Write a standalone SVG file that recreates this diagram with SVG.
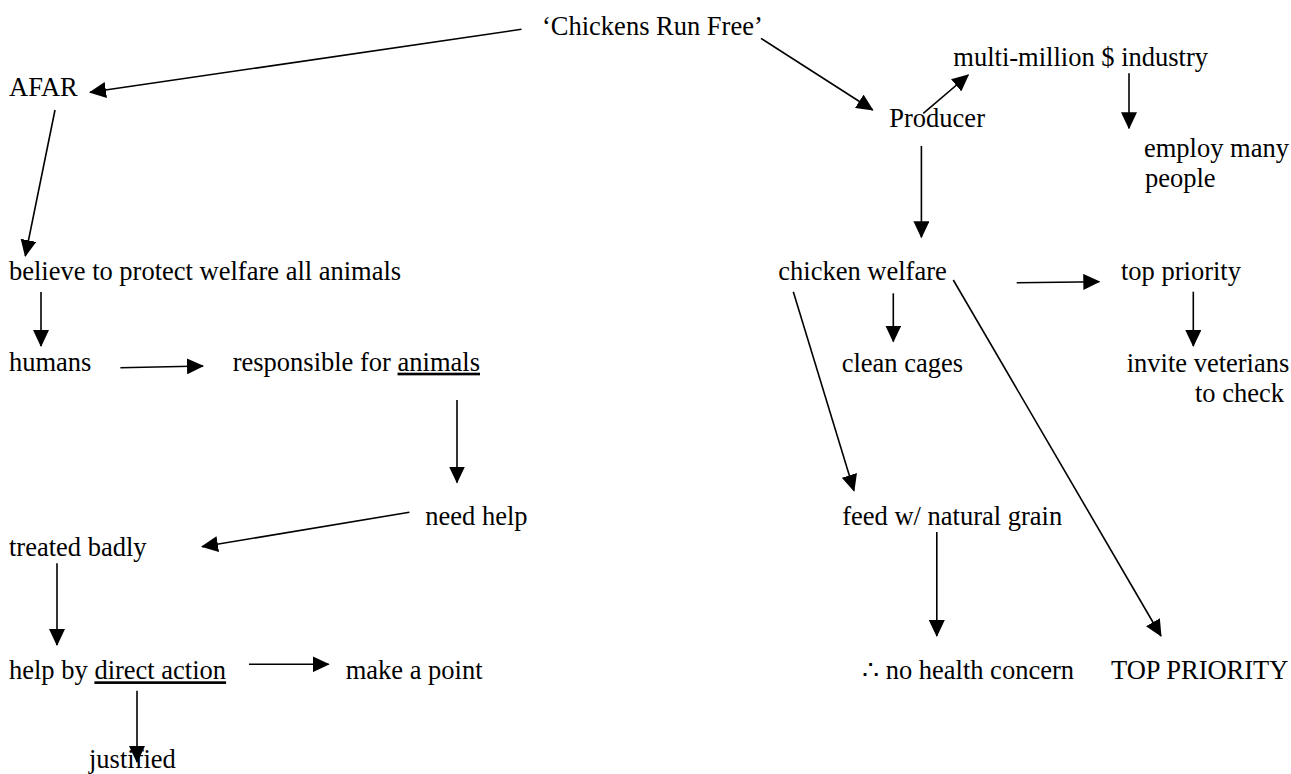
<svg xmlns="http://www.w3.org/2000/svg" width="1291" height="774" viewBox="0 0 1291 774">
<style>
text{font-family:"Liberation Serif","Times New Roman",serif;font-size:26.5px;fill:#000}
.u{text-decoration:underline}
.c line{stroke:#000;stroke-width:1.6;fill:none;marker-end:url(#ah)}
</style>
<defs>
<marker id="ah" markerUnits="userSpaceOnUse" markerWidth="17" markerHeight="16" viewBox="0 0 17 16" refX="16" refY="8" orient="auto">
<path d="M0,0 L17,8 L0,16 z" fill="#000"/>
</marker>
</defs>
<rect width="1291" height="774" fill="#fff"/>
<g class="c" id="connectors">
<line x1="521.5" y1="29.3" x2="90" y2="92.3"/>
<line x1="55" y1="110" x2="25.3" y2="256"/>
<line x1="41" y1="292" x2="41" y2="346"/>
<line x1="120.4" y1="367.7" x2="203" y2="366"/>
<line x1="457" y1="400" x2="457" y2="482.5"/>
<line x1="409.4" y1="512.3" x2="202" y2="546.7"/>
<line x1="57" y1="563.3" x2="57" y2="645"/>
<line x1="249" y1="664.3" x2="328.6" y2="664.3"/>
<line x1="137" y1="690.7" x2="137" y2="762"/>
<line x1="761" y1="38.3" x2="872.7" y2="110"/>
<line x1="923.3" y1="113.3" x2="968.3" y2="75"/>
<line x1="1129" y1="73.3" x2="1129" y2="128.3"/>
<line x1="921.4" y1="146" x2="921.4" y2="237.3"/>
<line x1="1016.7" y1="282.7" x2="1099.3" y2="281.7"/>
<line x1="1193.3" y1="291.7" x2="1193.3" y2="346"/>
<line x1="893.3" y1="293.3" x2="893.3" y2="341.5"/>
<line x1="793.3" y1="291.7" x2="854" y2="490.7"/>
<line x1="953.3" y1="280" x2="1161" y2="636"/>
<line x1="936.8" y1="532" x2="936.8" y2="636"/>
</g>
<g id="chickens-run-free"><text x="542" y="35">‘Chickens Run Free’</text></g>
<g id="afar"><text x="9" y="96">AFAR</text></g>
<g id="believe"><text x="9" y="279.5">believe to protect welfare all animals</text></g>
<g id="humans"><text x="9" y="370.7">humans</text></g>
<g id="responsible"><text x="232.7" y="370.7">responsible for <tspan class="u">animals</tspan></text></g>
<g id="need-help"><text x="425.3" y="525">need help</text></g>
<g id="treated-badly"><text x="9" y="555.7">treated badly</text></g>
<g id="help-by"><text x="9" y="679.3">help by <tspan class="u">direct action</tspan></text></g>
<g id="make-a-point"><text x="345.7" y="679.3">make a point</text></g>
<g id="justified"><text x="89" y="767.5">justified</text></g>
<g id="producer"><text x="889.3" y="126.7">Producer</text></g>
<g id="multi-million"><text x="953.3" y="66">multi-million $ industry</text></g>
<g id="employ"><text x="1144" y="157.3">employ many</text><text x="1145" y="187">people</text></g>
<g id="chicken-welfare"><text x="778.3" y="280">chicken welfare</text></g>
<g id="top-priority"><text x="1121" y="280">top priority</text></g>
<g id="clean-cages"><text x="841.7" y="371.7">clean cages</text></g>
<g id="invite"><text x="1126.7" y="371.7">invite veterians</text><text x="1195" y="402">to check</text></g>
<g id="feed"><text x="842.2" y="525">feed w/ natural grain</text></g>
<g id="no-health"><text x="862" y="679.3">∴ no health concern</text></g>
<g id="top-priority-caps"><text x="1111" y="679.3">TOP PRIORITY</text></g>
</svg>
